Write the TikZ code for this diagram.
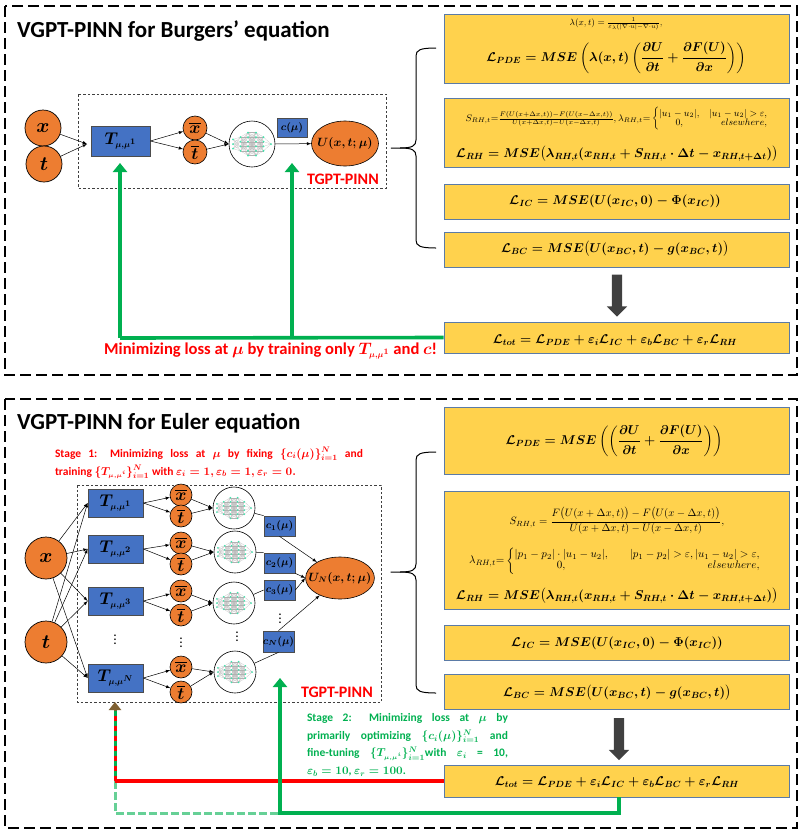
\documentclass[tikz,border=0pt]{standalone}
\usepackage{fix-cm}
\usepackage[no-math]{fontspec}
\setmainfont{Carlito}
\usepackage{amsmath}
\usepackage{amssymb}
\usetikzlibrary{arrows.meta,shapes.arrows,shapes.geometric}
\definecolor{myorange}{HTML}{ED7D31}
\definecolor{myblue}{HTML}{4472C4}
\definecolor{myyellow}{HTML}{FFD24D}
\definecolor{myframe}{HTML}{5B7BA6}
\definecolor{mygreen}{HTML}{00B050}
\definecolor{mybrown}{HTML}{7F6032}
\definecolor{myteal}{HTML}{3FE6AE}
\newcommand{\fs}[1]{\fontsize{#1}{#1}\selectfont}
\newcommand{\Tm}[1]{T_{\scriptscriptstyle\mu,\mu^{#1}}}
\tikzset{
  panel/.style={draw, line width=1.3pt, dash pattern=on 11pt off 5pt},
  tbox/.style={draw=black!75, line width=0.5pt, dash pattern=on 2.5pt off 2pt},
  inp/.style={draw, circle, fill=myorange, inner sep=0mm, line width=0.7pt, font=\boldmath\fs{20}},
  hid/.style={draw, circle, fill=myorange, inner sep=0mm, line width=0.6pt, font=\boldmath\fs{17}},
  tnet/.style={draw=black!70, rectangle, fill=myblue, inner sep=0mm, line width=0.7pt, font=\boldmath\fs{17}},
  cbox/.style={draw=black!70, rectangle, fill=myblue, inner sep=0mm, line width=0.7pt, font=\boldmath\fs{10.5}},
  outnode/.style={draw, ellipse, fill=myorange, inner sep=-7pt, line width=0.6pt, font=\boldmath\fs{12}},
  nncirc/.style={draw, circle, fill=white, inner sep=0mm, line width=0.6pt},
  eqbox/.style={draw=myframe, rectangle, fill=myyellow, inner sep=0mm, line width=0.7pt},
  eqn/.style={inner sep=0mm, font=\boldmath\fs{12.8}},
  smalleq/.style={inner sep=0mm, font=\fs{9}},
  titletext/.style={inner sep=0mm, font=\bfseries\fs{23}},
  redtext/.style={inner sep=0mm, text=red, font=\bfseries\boldmath\fs{16.6}},
  tlabel/.style={inner sep=0mm, text=red, font=\bfseries\fs{16}},
  link/.style={-latex, line width=0.5pt},
  pline/.style={line width=0.5pt},
  bracel/.style={line width=1pt},
  green line/.style={draw=mygreen, line width=3.6pt},
  big head/.style={-{Triangle[length=9pt,width=14pt]}},
  blockarr/.style={single arrow, fill=black!75, inner xsep=0mm, inner ysep=5pt, minimum width=20pt, minimum height=42pt,
    single arrow head extend=5pt, rotate=-90},
  vd/.style={inner sep=0mm, font=\bfseries\fs{11}},
  nnet/.pic={
    \foreach \xa/\na/\xb/\nb in {-19/3/-11.5/4,-11.5/4/-4/6,-4/6/4/6,4/6/11.5/4,11.5/4/19/1}
      \foreach \i in {1,...,\na}
        \foreach \j in {1,...,\nb}
          \draw[black!30, line width=0.12pt] ({\xa},{(\i-(\na+1)/2)*4.6}) -- ({\xb},{(\j-(\nb+1)/2)*4.6});
    \foreach \xa/\na in {-19/3,-11.5/4,-4/6,4/6,11.5/4,19/1}
      \foreach \i in {1,...,\na}
        \fill[myteal] ({\xa},{(\i-(\na+1)/2)*4.6}) circle (1pt);
  }
}
\begin{document}
\begin{tikzpicture}[x=1pt,y=-1pt]
  \useasboundingbox (0,0) rectangle (800,833);
  \draw[panel] (5,6) rectangle (797,375);
  \draw[panel] (5,399) rectangle (797,828);

  % Burgers
  \node[titletext, anchor=west] (titlea) at (17,31) {VGPT-PINN for Burgers’ equation};
  \draw[tbox] (78,94) rectangle (386,188);
  \node[inp, minimum size=36pt] (xa) at (43,128) {$x$};
  \node[inp, minimum size=36pt] (ta) at (44,164) {$t$};
  \coordinate (ja) at (87,144);
  \node[tnet, minimum width=59pt, minimum height=30pt] (Ta) at (120.5,141) {$\Tm{1}$};
  \node[hid, minimum size=24pt] (xba) at (195,128) {$\overline{x}$};
  \node[hid, minimum size=24pt] (tba) at (195,152) {$\overline{t}$};
  \node[nncirc, minimum size=46pt] (nna) at (252,144) {};
  \pic at (nna) {nnet};
  \node[cbox, minimum width=30pt, minimum height=19pt] (ca) at (292,127.5) {$c(\mu)$};
  \node[outnode, minimum width=67pt, minimum height=45pt] (Ua) at (345,143.5) {$U(x,t;\mu)$};
  \node[tlabel, anchor=east] (tga) at (379,179) {TGPT-PINN};
  \draw[link] (xa) -- (ja);
  \draw[link] (ta) -- (ja);
  \draw[link] (Ta.east) -- (xba);
  \draw[link] (Ta.east) -- (tba);
  \draw[link] (xba) -- (nna.west);
  \draw[link] (tba) -- (nna.west);
  \draw[link] (nna) -- (Ua);

  \node[eqbox, minimum width=345pt, minimum height=69pt] (pdea) at (616.5,48.5) {};
  \node[eqbox, minimum width=345pt, minimum height=69pt] (rha) at (616.5,132.5) {};
  \node[eqbox, minimum width=345pt, minimum height=35pt] (ica) at (616.5,201.5) {};
  \node[eqbox, minimum width=345pt, minimum height=35pt] (bca) at (616.5,249.5) {};
  \node[eqbox, minimum width=345pt, minimum height=31pt] (tota) at (616.5,337.5) {};
  \node[smalleq] (lama) at (616,24) {$\lambda(x,t)=\frac{1}{\varepsilon_\lambda(|\nabla\cdot u|-\nabla\cdot u)},$};
  \node[eqn] (epdea) at (616,58) {$\mathcal{L}_{PDE}=MSE\left(\lambda(x,t)\left(\dfrac{\partial U}{\partial t}+\dfrac{\partial F(U)}{\partial x}\right)\right)$};
  \node[smalleq, font=\fs{9.5}] (srha) at (617,119) {$S_{RH,t}{=}\frac{F(U(x+\Delta x,t))-F(U(x-\Delta x,t))}{U(x+\Delta x,t)-U(x-\Delta x,t)},\lambda_{RH,t}{=}\left\{\begin{array}{@{}c@{\quad}r@{}}|u_1-u_2|, & |u_1-u_2|>\varepsilon,\\ 0, & elsewhere,\end{array}\right.$};
  \node[eqn] (erha) at (617,154) {$\mathcal{L}_{RH}=MSE\bigl(\lambda_{RH,t}(x_{RH,t}+S_{RH,t}\cdot\Delta t-x_{RH,t+\Delta t})\bigr)$};
  \node[eqn] (eica) at (615,201) {$\mathcal{L}_{IC}=MSE(U(x_{IC},0)-\Phi(x_{IC}))$};
  \node[eqn] (ebca) at (615,249) {$\mathcal{L}_{BC}=MSE\bigl(U(x_{BC},t)-g(x_{BC},t)\bigr)$};
  \node[eqn] (etota) at (615,340) {$\mathcal{L}_{tot}=\mathcal{L}_{PDE}+\varepsilon_i\mathcal{L}_{IC}+\varepsilon_b\mathcal{L}_{BC}+\varepsilon_r\mathcal{L}_{RH}$};

  \draw[bracel] (Ua.east) ++(12,4.5) -- (400,148) .. controls (412,148) and (416,146) .. (416,140)
    -- (416,56) .. controls (416,50) and (420,48) .. (436,48);
  \draw[bracel] (400,148) .. controls (412,148) and (416,150) .. (416,156)
    -- (416,240) .. controls (416,246) and (420,248) .. (436,248);
  \node[blockarr] (arra) at (617,293) {};

  \coordinate (ga) at (120,338);
  \coordinate (gb) at (292,338);
  \coordinate (gat) at (120,163);
  \coordinate (gbt) at (292,163);
  \draw[green line] (tota.west) -- (ga);
  \draw[green line, big head] (ga) -- (gat);
  \draw[green line, big head] (gb) -- (gbt);
  \node[redtext, anchor=west] (mina) at (104,351) {Minimizing loss at $\mu$ by training only $\Tm{1}$ and $c$!};

  % Euler
  \node[titletext, anchor=west] (titleb) at (17,423) {VGPT-PINN for Euler equation};
  \node[inner sep=0mm, text width=308pt, align=justify, text=red, font=\bfseries\boldmath\fontsize{11.5}{18}\selectfont] (stagea) at (209,463)
    {Stage 1: Minimizing loss at $\mu$ by fixing $\{c_i(\mu)\}_{i=1}^N$ and\linebreak training $\{\Tm{i}\}_{i=1}^N$ with $\varepsilon_i=1,\varepsilon_b=1,\varepsilon_r=0.$};
  \draw[tbox] (77,485) rectangle (381,702);
  \node[inp, minimum size=42pt] (xb) at (46,558) {$x$};
  \node[inp, minimum size=42pt] (tb) at (46,642) {$t$};
  \foreach \n/\lab/\ty/\xy/\tty/\nx/\ny in {1/1/503/495/516/234/508,2/2/549/543/564/235/552,3/3/601/591/615/234/603,4/N/678/667/692/235/672} {
    \node[tnet, minimum width=55pt, minimum height=28pt] (T\n) at (115.5,\ty) {$\Tm{\lab}$};
    \node[hid, minimum size=22pt] (xb\n) at (181,\xy) {$\overline{x}$};
    \node[hid, minimum size=22pt] (tb\n) at (181,\tty) {$\overline{t}$};
    \node[nncirc, minimum size=42pt] (nn\n) at (\nx,\ny) {};
    \pic[scale=0.9] at (nn\n) {nnet};
    \draw[link] (xb) -- (T\n.west);
    \draw[link] (tb) -- (T\n.west);
    \draw[link] (T\n.east) -- (xb\n);
    \draw[link] (T\n.east) -- (tb\n);
    \draw[link] (xb\n) -- (nn\n.west);
    \draw[link] (tb\n) -- (nn\n.west);
  }
  \node[cbox, minimum width=31pt, minimum height=20pt] (c1) at (279.5,526) {$c_1(\mu)$};
  \node[cbox, minimum width=31pt, minimum height=20pt] (c2) at (279.5,563) {$c_2(\mu)$};
  \node[cbox, minimum width=31pt, minimum height=20pt] (c3) at (279.5,590) {$c_3(\mu)$};
  \node[cbox, minimum width=31pt, minimum height=21pt] (c4) at (278.5,641.5) {$c_N(\mu)$};
  \node[outnode, minimum width=68pt, minimum height=42pt] (Ub) at (340,578) {$U_N(x,t;\mu)$};
  \node[vd] (vda) at (115,637) {$\vdots$};
  \node[vd] (vdb) at (181,640) {$\vdots$};
  \node[vd] (vdc) at (237,634) {$\vdots$};
  \node[vd] (vdd) at (280,616) {$\vdots$};
  \node[tlabel, anchor=east] (tgb) at (373,692) {TGPT-PINN};
  \draw[pline] (nn1) -- (c1.north west);
  \draw[pline] (nn2) -- (c2.north west);
  \draw[pline] (nn3) -- (c3.west);
  \draw[pline] (nn4) -- (c4.south);
  \draw[link] (c1.south) -- (Ub);
  \draw[link] (c2.south east) -- (Ub.west);
  \draw[link] (c3.east) -- (Ub.west);
  \draw[link] (c4.north) -- (Ub);

  \node[eqbox, minimum width=345pt, minimum height=67pt] (pdeb) at (616.5,440.5) {};
  \node[eqbox, minimum width=345pt, minimum height=118pt] (rhb) at (616.5,550) {};
  \node[eqbox, minimum width=345pt, minimum height=35pt] (icb) at (616.5,642.5) {};
  \node[eqbox, minimum width=345pt, minimum height=35pt] (bcb) at (616.5,692) {};
  \node[eqbox, minimum width=345pt, minimum height=32pt] (totb) at (616.5,781) {};
  \node[eqn] (epdeb) at (614,441) {$\mathcal{L}_{PDE}=MSE\left(\left(\dfrac{\partial U}{\partial t}+\dfrac{\partial F(U)}{\partial x}\right)\right)$};
  \node[smalleq, font=\fs{10.7}] (srhb) at (617,521) {$S_{RH,t}=\dfrac{F\bigl(U(x+\Delta x,t)\bigr)-F\bigl(U(x-\Delta x,t)\bigr)}{U(x+\Delta x,t)-U(x-\Delta x,t)},$};
  \node[smalleq, font=\fs{11}] (lamb) at (615,561) {$\lambda_{RH,t}{=}\left\{\begin{array}{@{}c@{\qquad}r@{}}|p_1-p_2|\cdot|u_1-u_2|, & |p_1-p_2|>\varepsilon,|u_1-u_2|>\varepsilon,\\ 0, & elsewhere,\end{array}\right.$};
  \node[eqn] (erhb) at (617,596) {$\mathcal{L}_{RH}=MSE\bigl(\lambda_{RH,t}(x_{RH,t}+S_{RH,t}\cdot\Delta t-x_{RH,t+\Delta t})\bigr)$};
  \node[eqn] (eicb) at (617,643) {$\mathcal{L}_{IC}=MSE(U(x_{IC},0)-\Phi(x_{IC}))$};
  \node[eqn] (ebcb) at (617,693) {$\mathcal{L}_{BC}=MSE\bigl(U(x_{BC},t)-g(x_{BC},t)\bigr)$};
  \node[eqn] (etotb) at (617,782) {$\mathcal{L}_{tot}=\mathcal{L}_{PDE}+\varepsilon_i\mathcal{L}_{IC}+\varepsilon_b\mathcal{L}_{BC}+\varepsilon_r\mathcal{L}_{RH}$};

  \draw[bracel] (Ub.east) ++(16,-6) -- (400,572) .. controls (412,572) and (416,570) .. (416,564)
    -- (416,460) .. controls (416,454) and (420,452) .. (436,452);
  \draw[bracel] (400,572) .. controls (412,572) and (416,574) .. (416,580)
    -- (416,685) .. controls (416,691) and (420,693) .. (436,693);
  \node[blockarr] (arrb) at (619,736.5) {};

  \node[inner sep=0mm, text width=201pt, align=justify, text=mygreen, font=\bfseries\boldmath\fontsize{11.5}{17.5}\selectfont] (stageb) at (407.5,745)
    {Stage 2: Minimizing loss at $\mu$ by\linebreak primarily optimizing $\{c_i(\mu)\}_{i=1}^N$ and\linebreak fine-tuning $\{\Tm{i}\}_{i=1}^N$with $\varepsilon_i$ = 10,\linebreak $\varepsilon_b=10$, $\varepsilon_r=100$.};

  \coordinate (rj) at (115,781);
  \coordinate (rs) at (115,710);
  \coordinate (rt) at (115,702);
  \coordinate (dl) at (115,813);
  \coordinate (gl) at (280,813);
  \coordinate (gt) at (280,678);
  \coordinate (gr) at (619,813);
  \draw[draw=mygreen!60, line width=3pt, dash pattern=on 8pt off 3pt] (rj) -- (dl) -- (gl);
  \draw[green line, line width=3pt, dash pattern=on 5pt off 5pt, dash phase=5pt] (rj) -- (rs);
  \draw[draw=red, line width=3pt, dash pattern=on 5pt off 5pt] (rj) -- (rs);
  \draw[mybrown, line width=3pt, -{Triangle[length=8pt,width=12pt]}] (rs) -- (rt);
  \draw[draw=red, line width=3.6pt] (totb.west) -- (rj);
  \draw[green line, big head] (totb.south -| gr) -- (gr) -- (gl) -- (gt);
\end{tikzpicture}
\end{document}
